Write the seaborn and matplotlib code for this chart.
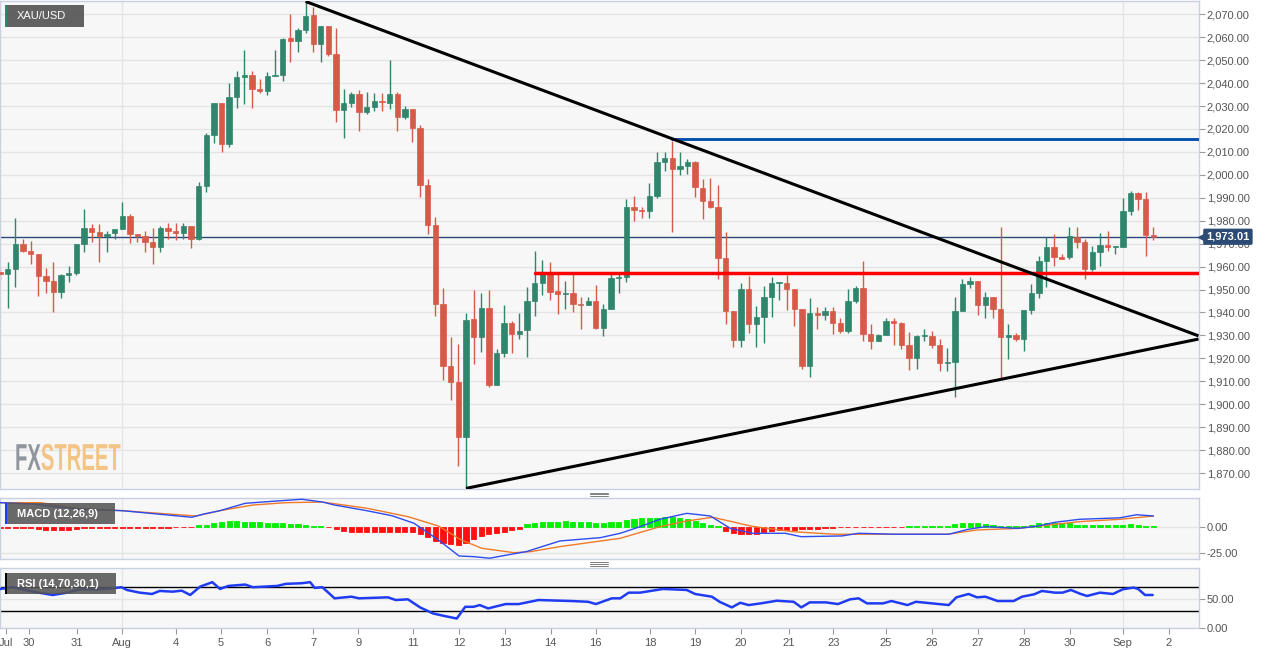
## XAU/USD 4H chart with MACD and RSI panels

import numpy as np
import pandas as pd
import seaborn as sns
import matplotlib.pyplot as plt
import matplotlib.transforms as mtransforms
from matplotlib.patches import Rectangle
from matplotlib.lines import Line2D
from matplotlib.ticker import FuncFormatter
from matplotlib.patheffects import AbstractPathEffect

sns.set_theme(style="white")
plt.rcParams["font.family"] = ["Liberation Sans", "DejaVu Sans"]

W, H = 1269, 655

# 4H candles (Jul 29 -> Sep 1)
opens = [1957.5, 1956.8, 1958.8, 1969.7, 1966.9, 1965.5, 1956.0, 1953.7, 1948.9, 1956.2,
         1957.0, 1969.7, 1976.7, 1975.1, 1973.3, 1974.5, 1976.3, 1982.2, 1974.2, 1973.3,
         1970.6, 1968.7, 1976.7, 1975.7, 1974.5, 1977.8, 1972.2, 1995.3, 2017.4, 2031.2,
         2013.6, 2033.8, 2042.8, 2043.5, 2037.3, 2036.7, 2043.2, 2043.6, 2059.7, 2058.4,
         2063.2, 2069.6, 2057.2, 2064.9, 2052.6, 2028.3, 2031.2, 2035.3, 2027.4, 2029.7,
         2032.4, 2031.5, 2035.1, 2025.1, 2028.6, 2020.6, 1995.6, 1978.1, 1943.5, 1916.8,
         1909.5, 1885.5, 1937.0, 1929.4, 1941.8, 1908.4, 1922.2, 1935.2, 1930.6, 1932.3,
         1945.1, 1953.0, 1957.0, 1949.4, 1948.0, 1948.6, 1943.8, 1943.4, 1944.8, 1933.1,
         1941.4, 1955.0, 1955.6, 1985.8, 1984.7, 1984.3, 1990.9, 2005.7, 2007.2, 2002.5,
         2004.0, 2005.4, 1994.1, 1988.6, 1986.1, 1963.6, 1940.8, 1928.2, 1950.1, 1935.0,
         1937.9, 1946.9, 1953.0, 1953.0, 1950.2, 1941.5, 1916.6, 1939.6, 1938.8, 1940.6,
         1935.5, 1932.0, 1944.9, 1950.5, 1930.6, 1927.7, 1930.3, 1936.4, 1935.5, 1925.8,
         1920.0, 1929.7, 1929.9, 1925.8, 1917.8, 1918.2, 1940.6, 1952.4, 1953.7, 1943.2,
         1946.6, 1941.4, 1929.4, 1930.1, 1928.5, 1941.0, 1948.6, 1962.6, 1968.7, 1964.0,
         1964.0, 1973.0, 1970.6, 1958.9, 1966.2, 1969.4, 1968.4, 1968.4, 1984.4, 1992.2,
         1989.5, 1973.8]
highs = [1959.5, 1962.2, 1981.0, 1971.9, 1971.0, 1965.5, 1959.5, 1962.2, 1956.8, 1960.4,
         1969.7, 1985.0, 1978.4, 1978.4, 1975.5, 1976.3, 1988.0, 1982.8, 1974.2, 1975.5,
         1976.7, 1977.8, 1978.9, 1978.9, 1979.2, 1977.8, 1996.7, 2018.1, 2031.2, 2031.2,
         2039.9, 2045.3, 2054.4, 2045.4, 2041.7, 2045.0, 2054.4, 2059.8, 2070.0, 2063.9,
         2075.9, 2073.3, 2064.9, 2064.9, 2063.9, 2037.3, 2036.0, 2037.0, 2036.3, 2035.6,
         2035.6, 2050.1, 2036.3, 2030.2, 2028.6, 2021.6, 1998.1, 1981.8, 1950.5, 1929.4,
         1926.1, 1939.9, 1949.8, 1948.3, 1949.8, 1924.0, 1943.1, 1936.4, 1939.9, 1951.0,
         1966.8, 1962.9, 1961.8, 1957.0, 1953.7, 1957.0, 1946.9, 1946.9, 1951.9, 1943.5,
         1956.8, 1956.8, 1989.3, 1990.9, 1986.1, 1996.3, 2010.1, 2010.1, 2014.9, 2010.1,
         2006.8, 2006.2, 1998.2, 1998.5, 1995.6, 1974.9, 1940.8, 1953.0, 1955.9, 1942.9,
         1951.7, 1955.3, 1953.4, 1956.3, 1950.2, 1941.5, 1946.1, 1942.2, 1942.2, 1942.2,
         1937.4, 1950.1, 1951.5, 1962.4, 1935.0, 1930.6, 1937.4, 1937.4, 1935.8, 1931.3,
         1930.2, 1932.6, 1931.9, 1928.3, 1924.3, 1946.6, 1954.4, 1955.6, 1953.7, 1949.0,
         1946.6, 1977.1, 1935.0, 1931.0, 1941.0, 1952.4, 1964.7, 1973.0, 1974.2, 1965.5,
         1977.1, 1977.1, 1971.9, 1969.1, 1974.5, 1975.5, 1968.8, 1989.8, 1993.0, 1992.5,
         1992.5, 1977.1]
lows = [1954.2, 1941.8, 1951.3, 1966.2, 1961.0, 1947.3, 1948.3, 1940.1, 1946.2, 1953.4,
        1956.2, 1966.5, 1970.6, 1962.0, 1966.2, 1972.0, 1976.3, 1970.1, 1970.6, 1966.2,
        1961.0, 1966.5, 1972.0, 1971.6, 1972.0, 1968.0, 1971.6, 1992.7, 2014.0, 2009.8,
        2012.2, 2029.0, 2030.8, 2029.0, 2035.8, 2034.8, 2043.1, 2041.1, 2049.4, 2053.7,
        2062.0, 2053.4, 2049.4, 2051.8, 2023.2, 2015.9, 2029.7, 2019.3, 2026.4, 2027.8,
        2028.0, 2028.6, 2019.3, 2024.5, 2014.5, 1990.5, 1974.2, 1938.5, 1910.5, 1901.8,
        1873.0, 1863.3, 1917.4, 1922.9, 1907.4, 1908.4, 1920.4, 1922.2, 1928.3, 1920.7,
        1938.4, 1947.6, 1945.4, 1939.3, 1941.4, 1940.3, 1932.7, 1943.4, 1932.7, 1929.9,
        1941.4, 1948.3, 1953.4, 1980.0, 1981.0, 1981.0, 1989.8, 2001.7, 1975.1, 1999.9,
        2000.4, 1990.5, 1980.7, 1985.5, 1954.4, 1934.9, 1925.0, 1925.0, 1930.9, 1924.8,
        1926.8, 1937.9, 1945.4, 1941.1, 1934.1, 1915.2, 1912.0, 1932.6, 1936.7, 1930.6,
        1930.9, 1930.9, 1944.2, 1927.7, 1923.9, 1927.4, 1930.3, 1925.8, 1924.0, 1914.9,
        1915.2, 1927.4, 1924.3, 1914.5, 1914.3, 1903.0, 1940.6, 1950.5, 1938.9, 1937.4,
        1937.4, 1911.2, 1919.5, 1927.4, 1923.3, 1939.2, 1946.1, 1951.0, 1960.4, 1963.1,
        1963.4, 1968.0, 1954.4, 1958.2, 1960.4, 1966.7, 1965.3, 1968.4, 1982.5, 1984.7,
        1964.6, 1971.6]
closes = [1956.8, 1958.8, 1969.7, 1966.9, 1965.5, 1956.0, 1953.7, 1948.9, 1956.2, 1957.0,
          1969.7, 1976.7, 1975.1, 1973.3, 1974.2, 1976.3, 1982.2, 1974.2, 1973.3, 1970.6,
          1968.7, 1976.7, 1975.7, 1974.5, 1977.8, 1972.2, 1995.3, 2017.4, 2031.2, 2013.6,
          2033.8, 2042.8, 2043.5, 2037.3, 2036.4, 2043.2, 2043.6, 2059.1, 2058.4, 2063.2,
          2069.3, 2056.9, 2064.9, 2052.6, 2028.3, 2031.2, 2035.3, 2027.4, 2029.7, 2032.4,
          2031.8, 2035.1, 2025.1, 2028.6, 2020.6, 1995.6, 1978.1, 1943.5, 1916.8, 1909.5,
          1885.5, 1936.7, 1929.4, 1941.8, 1908.4, 1922.2, 1935.2, 1930.6, 1931.9, 1945.1,
          1953.0, 1957.0, 1949.0, 1948.0, 1948.6, 1943.8, 1943.4, 1944.8, 1933.1, 1941.4,
          1955.0, 1955.6, 1985.8, 1984.7, 1984.3, 1990.9, 2005.7, 2007.2, 2002.5, 2003.9,
          2005.4, 1994.6, 1988.6, 1986.1, 1963.6, 1940.8, 1928.2, 1950.1, 1935.0, 1937.9,
          1946.9, 1953.0, 1953.4, 1950.2, 1941.5, 1916.6, 1939.6, 1938.8, 1940.6, 1935.5,
          1932.0, 1944.9, 1950.5, 1930.6, 1927.7, 1930.3, 1936.4, 1935.5, 1925.8, 1920.0,
          1929.7, 1930.0, 1925.8, 1917.8, 1918.2, 1940.6, 1952.4, 1953.7, 1943.2, 1946.6,
          1941.4, 1929.4, 1930.1, 1928.5, 1941.0, 1948.6, 1962.6, 1968.7, 1964.0, 1963.4,
          1973.5, 1970.6, 1958.9, 1966.2, 1969.4, 1968.4, 1968.8, 1984.4, 1992.2, 1989.5,
          1973.8, 1973.01]

last_price = 1973.01
resistance = (88, 2015.5)      # blue level: start candle, price
support = (70, 1957.4)         # red level
upper_trend = ([40, 156.9], [2075.6, 1929.8])
lower_trend = ([61, 156.9], [1863.3, 1928.4])

# MACD (12,26,9)
macd_x = [0, 4.3, 10.2, 16.0, 25.1, 26.7, 28.8, 32.1, 36.3, 39.5, 42.2, 43.8, 48.0, 51.3, 54.2,
          57.4, 60.1, 62.0, 64.1, 66.2, 68.9, 73.3, 78.6, 81.2, 83.8, 86.4, 89.9, 93.0, 95.6,
          98.5, 102.8, 104.9, 110.2, 112.4, 117.2, 124.2, 126.8, 129.0, 133.3, 135.9, 138.1,
          141.3, 146.6, 148.8, 151.0]
macd_line = [22.5, 21.3, 16.3, 15.0, 8.8, 11.9, 15.0, 21.9, 24.1, 25.7, 23.1, 20.3, 15.0, 10.3, 3.2,
             -12.5, -27.5, -28.1, -29.6, -26.8, -23.4, -13.4, -10.3, -6.2, 0.0, 6.9, 12.5, 10.0, -1.6,
             -6.2, -6.2, -9.4, -8.7, -6.2, -7.1, -7.1, -2.4, 0.0, -1.6, 0.6, 4.1,
             6.9, 8.3, 11.2, 10.0]
signal_x = [0, 5.3, 10.2, 16.0, 25.7, 28.8, 33.1, 37.4, 42.2, 48.1, 53.4, 57.4, 60.4, 63.1, 67.3,
            69.5, 73.3, 81.2, 86.4, 89.9, 93.3, 98.5, 103.8, 109.2, 124.1, 127.9, 133.3, 141.3,
            146.6, 151.0]
signal_line = [22.5, 22.5, 17.2, 15.0, 10.0, 15.0, 20.3, 22.5, 23.1, 17.2, 9.4, 0.6, -12.5, -20.3, -24.4,
               -23.4, -18.7, -10.9, 0.0, 5.3, 8.8, 0.3, -4.7, -7.1, -7.1, -3.1, -1.6, 4.7,
               6.9, 10.0]
hist = [-0.8, -0.8, -0.8, -0.8, -0.8, -2.5, -3.0, -3.0, -3.0, -2.8,
        -2.0, -1.0, -1.0, -1.0, -1.0, -0.8, -0.8, -0.8, -0.8, -0.8,
        -0.8, -0.8, -0.8, -0.6, -0.5, -0.3, 1.2, 2.0, 3.0, 4.5,
        5.0, 5.2, 4.8, 4.5, 4.2, 3.5, 3.2, 3.0, 2.8, 2.5,
        2.0, 1.0, 0.5, -0.3, -2.5, -4.0, -4.8, -5.0, -5.0, -5.0,
        -5.0, -4.8, -4.8, -4.8, -5.0, -7.0, -10.0, -13.0, -15.0, -16.5,
        -17.0, -15.0, -12.0, -9.0, -7.0, -6.0, -5.0, -3.5, -2.0, 2.5,
        3.5, 4.0, 4.5, 4.5, 5.3, 4.7, 4.1, 4.0, 3.1, 3.1,
        4.0, 4.7, 6.2, 7.2, 7.8, 8.4, 8.4, 8.7, 8.7, 7.8,
        6.9, 5.0, 3.1, 1.9, 0.6, -3.7, -6.2, -6.9, -6.9, -7.2,
        -5.0, -4.0, -3.5, -3.0, -3.0, -2.5, -2.5, -2.0, -1.5, -1.0,
        -0.5, -0.3, -0.3, -0.3, -0.3, -0.3, -0.3, -0.3, -0.3, 0.3,
        0.3, 0.3, 0.3, 0.3, 0.3, 2.5, 3.0, 3.0, 3.0, 2.5,
        1.5, 0.8, 0.6, 0.6, 0.8, 1.5, 3.0, 3.5, 3.5, 3.5,
        3.0, 2.0, 1.5, 1.5, 1.5, 1.5, 1.8, 2.0, 2.2, 2.0,
        0.8, 0.5]

# RSI (14)
rsi_x = [0, 1.7, 4.3, 6.9, 8.8, 10.5, 13.1, 14.8, 15.9, 16.6,
         18.3, 19.9, 20.9, 22.6, 23.8, 24.9, 26.2, 27.8, 28.8, 29.9,
         32.1, 33.1, 36.3, 37.4, 39.5, 40.6, 41.2, 42.2, 43.8, 46.0,
         47.0, 50.8, 51.8, 53.4, 55.0, 56.7, 58.3, 59.8, 60.9, 62.0,
         62.8, 63.9, 66.2, 67.9, 70.5, 74.8, 77.0, 78.0, 80.1, 81.2,
         82.3, 83.8, 84.6, 86.8, 89.9, 91.0, 93.2, 94.2, 95.8, 96.9,
         98.0, 99.6, 101.7, 103.9, 104.9, 106.0, 108.1, 109.7, 111.3, 112.4,
         113.5, 115.6, 116.7, 118.8, 119.9, 122.0, 124.2, 125.2, 126.8, 127.9,
         129.0, 130.6, 132.7, 133.8, 135.4, 136.4, 138.1, 139.1, 140.2, 141.4,
         142.3, 144.0, 145.7, 147.0, 148.4, 149.0, 149.9, 150.9]
rsi_vals = [67.2, 70.2, 62.6, 56.9, 60.9, 66.7, 66.7, 68.4, 70.2, 65.5,
            60.9, 58.6, 63.8, 62.6, 64.3, 56.9, 71.2, 78.8, 67.2, 72.4,
            74.7, 70.2, 72.4, 75.9, 77.0, 78.8, 69.0, 70.2, 51.2, 54.0,
            51.2, 52.9, 48.3, 49.5, 35.7, 25.3, 20.7, 16.7, 36.7, 36.7,
            39.7, 34.0, 41.4, 41.4, 48.3, 46.6, 45.3, 41.4, 51.2, 51.2,
            60.9, 60.9, 62.6, 67.2, 65.5, 58.6, 54.0, 45.3, 35.7, 43.6,
            39.7, 42.6, 47.1, 45.3, 35.7, 44.3, 44.3, 41.4, 49.5, 51.2,
            42.6, 42.6, 46.6, 39.7, 45.3, 42.6, 39.7, 52.9, 58.6, 52.9,
            54.0, 46.6, 46.6, 54.0, 58.1, 63.8, 60.9, 60.9, 65.5, 59.0,
            55.2, 60.9, 58.6, 66.7, 69.5, 67.2, 56.9, 56.9]

tick_pos = [0.8, 3.8, 10.1, 16.0, 23.0, 28.9, 35.0, 41.0, 46.9, 54.1, 60.1, 66.1, 72.1,
            78.0, 85.1, 91.0, 97.0, 103.3, 109.1, 116.0, 122.0, 128.0, 134.1, 140.1, 147.0, 153.0]
tick_labels = ["Jul", "30", "31", "Aug", "4", "5", "6", "7", "9", "11", "12", "13", "14",
               "16", "18", "19", "20", "21", "23", "25", "26", "27", "28", "30", "Sep", "2"]
month_pos = [16, 147]

GREEN, RED = "#2f866c", "#d65a48"
GRID = "#e4e4e4"
TXT = "#555555"

df = pd.DataFrame({"o": opens, "h": highs, "l": lows, "c": closes})
df["i"] = np.arange(len(df))
df["col"] = np.where(df.c >= df.o, GREEN, RED)

fig = plt.figure(figsize=(W / 100, H / 100), dpi=100)
fig.patch.set_facecolor("white")


def frac(x0, y0, x1, y1):
    return [x0 / W, 1 - y1 / H, (x1 - x0) / W, (y1 - y0) / H]


ax = fig.add_axes(frac(0, 1, 1198.5, 489.3))
ax_m = fig.add_axes(frac(0, 498.3, 1198.5, 559.3))
ax_r = fig.add_axes(frac(0, 568.3, 1198.5, 628.3))

x_hi = 156.9
for a in (ax, ax_m, ax_r):
    a.set_facecolor("#f7f7f7")
    for s in a.spines.values():
        s.set_color("#c8d0e2")
        s.set_linewidth(1)
    a.set_xlim(0, x_hi)
    a.yaxis.tick_right()
    a.tick_params(axis="y", direction="out", length=4, width=0.8, color="#999999",
                  labelsize=8, labelcolor=TXT, pad=2, left=False, labelleft=False)
    a.yaxis.grid(True, color=GRID, lw=1)
    a.set_axisbelow(True)
    for m in month_pos:
        a.axvline(m, color=GRID, lw=1, zorder=0)

for a in (ax, ax_m):
    a.tick_params(axis="x", bottom=False, labelbottom=False)

# ---- price panel ----
ax.set_ylim(1862.9, 2075.8)
ax.set_yticks(np.arange(1870, 2071, 10))
ax.yaxis.set_major_formatter(FuncFormatter(lambda v, _: f"{v:,.2f}"))

ax.axhline(last_price, color="#2a4a78", lw=1, zorder=1)
ax.vlines(df.i, df.l, df.h, colors=df.col, lw=1, zorder=2)
ax.bar(df.i, (df.c - df.o).abs().clip(lower=0.3), bottom=df[["o", "c"]].min(axis=1),
       width=0.7, color=df.col, edgecolor=df.col, linewidth=0.5, zorder=3)

ax.plot([resistance[0], x_hi], [resistance[1]] * 2, color="#0752b0", lw=2.1, zorder=4)
ax.plot([support[0], x_hi], [support[1]] * 2, color="#ff0000", lw=2.5, zorder=4)
ax.plot(*upper_trend, color="black", lw=2.2, zorder=5, solid_capstyle="butt")
ax.plot(*lower_trend, color="black", lw=2.2, zorder=5, solid_capstyle="butt")

# current price tag
trans = mtransforms.blended_transform_factory(ax.transAxes, ax.transData)
ax.plot([1.003], [last_price], marker="<", ms=6, color="#2b4b75", transform=trans,
        clip_on=False, zorder=10)
ax.text(1.0065, last_price, f"{last_price:,.2f}", transform=trans, ha="left", va="center",
        color="white", fontsize=8, fontweight="bold", zorder=11, clip_on=False,
        bbox=dict(boxstyle="round,pad=0.28,rounding_size=0.15", fc="#2b4b75", ec="none"))

# ---- MACD panel ----
ax_m.set_ylim(-30.6, 26.6)
ax_m.set_yticks([0, -25], ["0.00", "-25.00"])
hcol = [("#00ee00" if v > 0 else "#ff1010") for v in hist]
ax_m.bar(df.i, hist, width=0.68, color=hcol, edgecolor=hcol, linewidth=0.6, zorder=2)
sns.lineplot(x=signal_x, y=signal_line, ax=ax_m, color="#f07a28", linewidth=1, zorder=3)
sns.lineplot(x=macd_x, y=macd_line, ax=ax_m, color="#2c4cf2", linewidth=1, zorder=4)

# ---- RSI panel ----
ax_r.set_ylim(0, 102.5)
ax_r.set_yticks([0, 50], ["0.00", "50.00"])
ax_r.axhline(70, color="black", lw=1, zorder=2)
ax_r.axhline(30, color="black", lw=1, zorder=2)
sns.lineplot(x=rsi_x, y=rsi_vals, ax=ax_r, color="#1f3cf2", linewidth=1.8, zorder=3)
ax_r.set_xticks(tick_pos, tick_labels)
ax_r.tick_params(axis="x", bottom=True, direction="out", length=4, width=0.8,
                 color="#999999", labelsize=8, labelcolor=TXT, pad=3)
for a in (ax, ax_m, ax_r):
    a.set_xlabel("")
    a.set_ylabel("")


# ---- overlay labels ----
def label_box(x0, y0, x1, y1, stripe, text, bold, alpha):
    fig.add_artist(Rectangle((x0 / W, 1 - y1 / H), (x1 - x0) / W, (y1 - y0) / H,
                             transform=fig.transFigure, fc="#555555", ec="none", alpha=alpha, zorder=20))
    fig.add_artist(Rectangle((x0 / W, 1 - y1 / H), 2.4 / W, (y1 - y0) / H,
                             transform=fig.transFigure, fc=stripe, ec="none", zorder=21))
    fig.text(17 / W, 1 - (y0 + y1) / 2 / H, text, color="white", fontsize=8,
             fontweight="bold" if bold else "normal", va="center", ha="left", zorder=22)


label_box(5, 5, 84, 27, GREEN, "XAU/USD", False, 0.92)
label_box(5, 503.3, 115, 524.3, "#1a3cff", "MACD (12,26,9)", True, 0.88)
label_box(5, 573.3, 115.7, 594.3, "black", "RSI (14,70,30,1)", True, 0.88)

# panel resize handles
for yy in (492.5, 494.3, 496.1, 562.3, 564.1, 565.9):
    fig.add_artist(Line2D([590 / W, 608 / W], [1 - yy / H] * 2, transform=fig.transFigure,
                          color="#808080", lw=0.7, zorder=20))


# watermark: condensed look by squeezing the glyphs horizontally
class Squeeze(AbstractPathEffect):
    def __init__(self, sx, x0):
        super().__init__()
        self.sx, self.x0 = sx, x0

    def draw_path(self, renderer, gc, tpath, affine, rgbFace=None):
        squeeze = mtransforms.Affine2D().translate(-self.x0, 0).scale(self.sx, 1).translate(self.x0, 0)
        renderer.draw_path(gc, tpath, affine + squeeze, rgbFace)


logo_x = 15
squeeze = [Squeeze(0.54, logo_x)]
fx = fig.text(logo_x / W, 1 - 470 / H, "FX", color="#8b9099", fontsize=27, fontweight="bold",
              va="baseline", ha="left", alpha=0.95, zorder=1, path_effects=squeeze)
fig.canvas.draw()
x_end = fx.get_window_extent(fig.canvas.get_renderer()).x1
fig.text(x_end / W, 1 - 470 / H, "STREET", color="#f2c27f", fontsize=27, fontweight="bold",
         va="baseline", ha="left", alpha=0.95, zorder=1, path_effects=squeeze)

fig.savefig("out.png", dpi=100)
